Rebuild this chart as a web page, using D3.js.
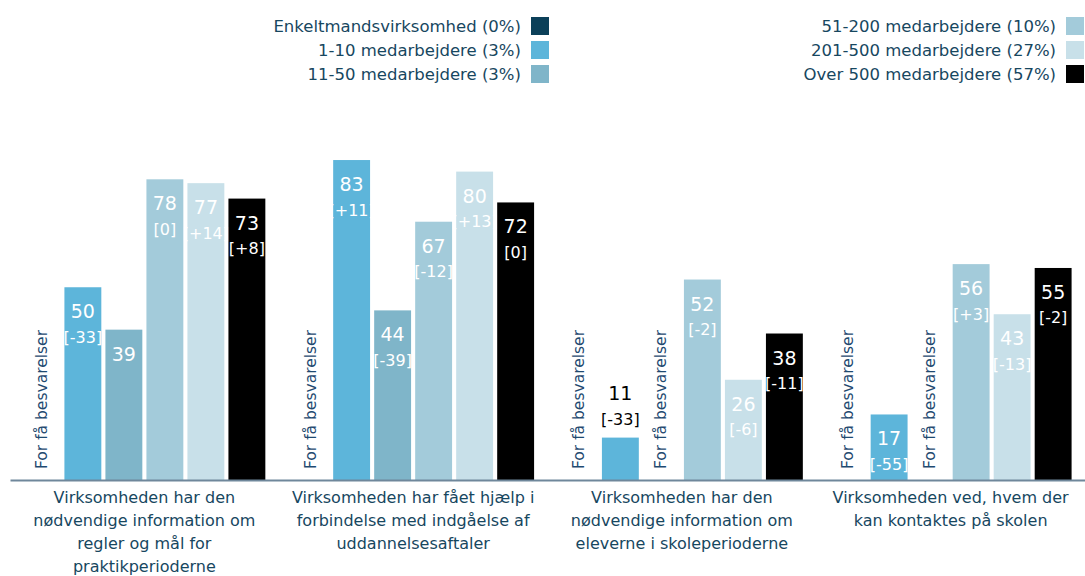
<!DOCTYPE html>
<html>
<head>
<meta charset="utf-8">
<script src="https://cdn.jsdelivr.net/npm/d3@7"></script>
<style>
  body { margin: 0; background: #fff; }
  svg text { font-family: "DejaVu Sans", Verdana, sans-serif; }
</style>
</head>
<body>
<svg id="chart"></svg>
<script>
// data
var categories = [
    "Virksomheden har den\nnødvendige information om\nregler og mål for\npraktikperioderne",
    "Virksomheden har fået hjælp i\nforbindelse med indgåelse af\nuddannelsesaftaler",
    "Virksomheden har den\nnødvendige information om\neleverne i skoleperioderne",
    "Virksomheden ved, hvem der\nkan kontaktes på skolen"
];
var seriesNames = ["Enkeltmandsvirksomhed (0%)", "1-10 medarbejdere (3%)", "11-50 medarbejdere (3%)",
    "51-200 medarbejdere (10%)", "201-500 medarbejdere (27%)", "Over 500 medarbejdere (57%)"];
var seriesColors = ["#0b4059", "#5db5da", "#7fb5c9", "#a3cbda", "#c8e0e9", "#000000"];

// values per series (null = for få besvarelser)
var enkeltmand = [null, null, null, null];
var emp1_10 = [50, 83, 11, 17];
var emp11_50 = [39, 44, null, null];
var emp51_200 = [78, 67, 52, 56];
var emp201_500 = [77, 80, 26, 43];
var emp500 = [73, 72, 38, 55];

// change vs. previous measurement (null = not shown)
var chg1_10 = ["-33", "+11", "-33", "-55"];
var chg11_50 = [null, "-39", null, null];
var chg51_200 = ["0", "-12", "-2", "+3"];
var chg201_500 = ["+14", "+13", "-6", "-13"];
var chg500 = ["+8", "0", "-11", "-2"];

var values = [enkeltmand, emp1_10, emp11_50, emp51_200, emp201_500, emp500];
var changes = [[null, null, null, null], chg1_10, chg11_50, chg51_200, chg201_500, chg500];
var missingText = "For få besvarelser";

var width = 1085, height = 576;
var textColor = "#17475f";

var svg = d3.select("#chart")
    .attr("width", width)
    .attr("height", height);

var x0 = d3.scaleBand().domain(d3.range(categories.length)).range([10, 1085]);
var x1 = d3.scaleBand().domain(d3.range(seriesNames.length))
    .range([0, x0.bandwidth()]).paddingInner(0.1).paddingOuter(0.327);
var y = d3.scaleLinear().domain([0, 100]).range([480, 94.5]);

// flatten into cells
var cells = [];
categories.forEach(function (c, ci) {
    values.forEach(function (s, si) {
        cells.push({ci: ci, si: si, v: s[ci], chg: changes[si][ci]});
    });
});

var g = svg.append("g");

g.selectAll(".bar")
    .data(cells.filter(function (d) { return d.v != null; }))
    .enter().append("rect")
    .attr("class", "bar")
    .attr("x", function (d) { return x0(d.ci) + x1(d.si); })
    .attr("y", function (d) { return y(d.v); })
    .attr("width", x1.bandwidth())
    .attr("height", function (d) { return y(0) - y(d.v); })
    .attr("fill", function (d) { return seriesColors[d.si]; });

// value labels
var labels = g.selectAll(".lbl")
    .data(cells.filter(function (d) { return d.v != null; }))
    .enter().append("g")
    .attr("class", "lbl")
    .attr("transform", function (d) {
        var cx = x0(d.ci) + x1(d.si) + x1.bandwidth() / 2;
        return "translate(" + cx + "," + y(d.v) + ")";
    });

labels.append("text")
    .attr("text-anchor", "middle")
    .attr("dominant-baseline", "central")
    .attr("y", function (d) { return d.v < 15 ? -45 : 24; })
    .attr("fill", function (d) { return d.v < 15 ? "#000" : "#fff"; })
    .style("font-size", "19px")
    .text(function (d) { return d.v; });

labels.filter(function (d) { return d.chg != null; })
    .append("text")
    .attr("text-anchor", "middle")
    .attr("dominant-baseline", "central")
    .attr("y", function (d) { return d.v < 15 ? -18 : 50; })
    .attr("fill", function (d) { return d.v < 15 ? "#000" : "#fff"; })
    .style("font-size", "16px")
    .text(function (d) { return "[" + d.chg + "]"; });

// missing markers
g.selectAll(".missing")
    .data(cells.filter(function (d) { return d.v == null; }))
    .enter().append("text")
    .attr("class", "missing")
    .attr("transform", function (d) {
        var cx = x0(d.ci) + x1(d.si) + x1.bandwidth() / 2;
        return "translate(" + cx + "," + 469 + ") rotate(-90)";
    })
    .attr("dominant-baseline", "central")
    .attr("fill", "#1f4a70")
    .style("font-size", "15.5px")
    .text(missingText);

// x axis
var xAxis = g.append("g")
    .attr("transform", "translate(0," + y(0) + ")")
    .call(d3.axisBottom(x0).tickSize(0).tickFormat(""));
xAxis.select(".domain").attr("stroke", "#6f879b").attr("stroke-width", 2);

var catLabels = g.selectAll(".cat")
    .data(categories)
    .enter().append("text")
    .attr("class", "cat")
    .attr("text-anchor", "middle")
    .attr("fill", textColor)
    .style("font-size", "16px")
    .attr("x", function (d, i) { return x0(i) + x0.bandwidth() / 2; })
    .attr("y", 503);
catLabels.selectAll("tspan")
    .data(function (d) { return d.split("\n"); })
    .enter().append("tspan")
    .attr("x", function () { return d3.select(this.parentNode).attr("x"); })
    .attr("dy", function (d, i) { return i === 0 ? 0 : 23; })
    .text(function (d) { return d; });

// legend
var legendCols = [{right: 549, items: [0, 1, 2]}, {right: 1084, items: [3, 4, 5]}];
legendCols.forEach(function (col) {
    var lg = svg.append("g");
    var rows = lg.selectAll("g")
        .data(col.items)
        .enter().append("g")
        .attr("transform", function (d, i) { return "translate(" + col.right + "," + (26 + i * 24) + ")"; });
    rows.append("rect")
        .attr("x", -18).attr("y", -9)
        .attr("width", 18).attr("height", 18)
        .attr("fill", function (d) { return seriesColors[d]; });
    rows.append("text")
        .attr("x", -28)
        .attr("text-anchor", "end")
        .attr("dominant-baseline", "central")
        .attr("fill", textColor)
        .style("font-size", "16.5px")
        .text(function (d) { return seriesNames[d]; });
});
</script>
</body>
</html>
